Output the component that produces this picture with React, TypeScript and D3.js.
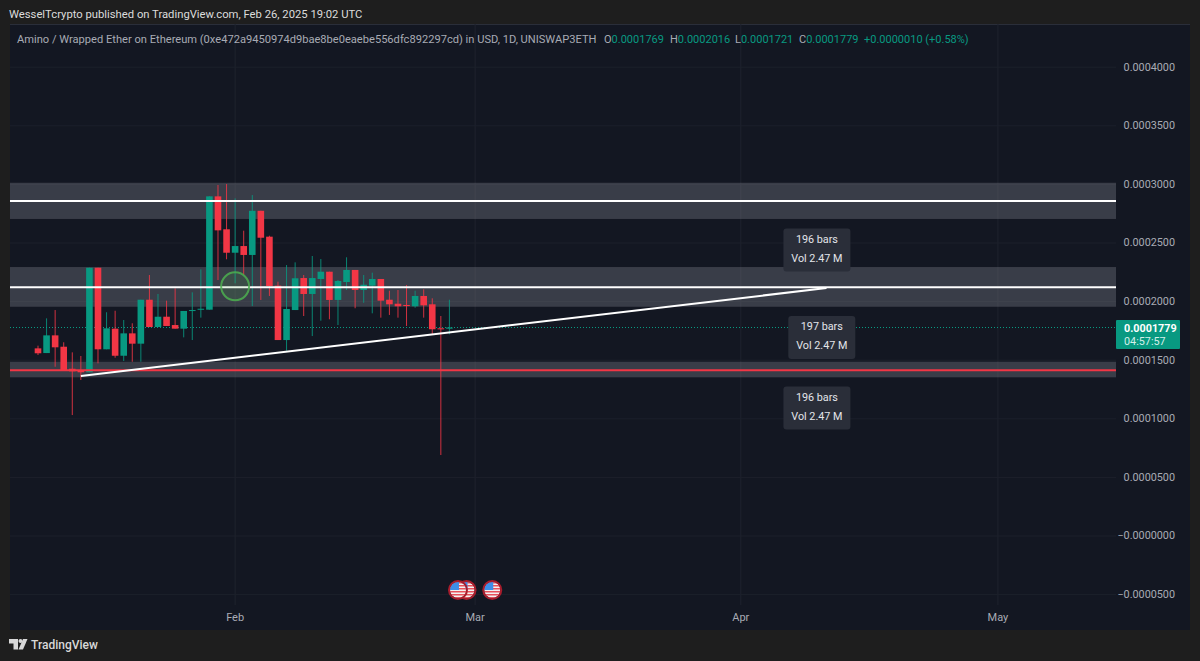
import React from "react";
import * as d3 from "d3";

const U = 1e-7;
const firstDay = Date.UTC(2025, 0, 9);
const DAY = 86400000;
const opens = [1601,1561,1712,1615,1427,1416,1397,2289,1593,1769,1538,1729,1641,2016,1783,1871,1800,1769,1920,1931,1931,2898,2617,2417,2474,2398,2775,2554,2136,1672,1928,2201,2065,2193,2255,2014,2167,2270,2099,2136,2193,2016,1982,1971,1960,2048,1977,1772,1769];
const highs = [1624,1857,1928,1653,1567,1536,2289,2289,1909,1922,1843,1815,2016,2227,2065,2008,2113,1920,2079,2275,2898,2995,3003,2881,2605,2909,2775,2562,2170,2312,2335,2227,2389,2363,2255,2184,2378,2270,2227,2247,2193,2093,2099,2142,2093,2105,2028,1877,2016];
const lows = [1544,1561,1444,1416,1032,1331,1397,1473,1593,1521,1493,1487,1487,1783,1783,1792,1769,1695,1672,1863,1931,2184,2361,2156,2227,1962,2014,2048,1672,1581,1928,1877,1706,1837,1849,1800,2099,1943,1990,1900,1863,1886,1863,1792,1948,1863,1723,691,1721];
const closes = [1559,1712,1610,1416,1405,1397,2289,1593,1772,1538,1729,1641,2016,1783,1871,1792,1769,1920,1928,1939,2898,2608,2417,2474,2398,2775,2545,2133,1672,1937,2199,2065,2201,2255,2014,2176,2270,2099,2144,2193,2008,1977,1960,1962,2048,1968,1764,1769,1779];

const priceTicks = [0.0004, 0.00035, 0.0003, 0.00025, 0.0002, 0.00015, 0.0001, 0.00005, 0, -0.00005];
const priceLabels = ["0.0004000", "0.0003500", "0.0003000", "0.0002500", "0.0002000", "0.0001500", "0.0001000", "0.0000500", "\u22120.0000000", "\u22120.0000500"];
const monthTicks = [
  { label: "Feb", date: Date.UTC(2025, 1, 1) },
  { label: "Mar", date: Date.UTC(2025, 2, 1) },
  { label: "Apr", date: Date.UTC(2025, 3, 1) },
  { label: "May", date: Date.UTC(2025, 4, 1) },
];
const zones = [
  { top: 0.0003014, bottom: 0.0002705, level: 0.0002858, color: "#ffffff" },
  { top: 0.0002295, bottom: 0.0001956, level: 0.0002122, color: "#ffffff" },
  { top: 0.0001487, bottom: 0.0001354, level: 0.0001414, color: "#f23645" },
];
const trend = [
  { date: Date.UTC(2025, 0, 14), price: 0.0001365 },
  { date: Date.UTC(2025, 3, 11), price: 0.0002116 },
];
const callouts = [
  { date: Date.UTC(2025, 3, 10) - DAY * 0.12, price: 0.000244, bars: "196 bars", vol: "Vol 2.47 M" },
  { date: Date.UTC(2025, 3, 10) + DAY * 0.45, price: 0.0001694, bars: "197 bars", vol: "Vol 2.47 M" },
  { date: Date.UTC(2025, 3, 10) - DAY * 0.12, price: 0.0001092, bars: "196 bars", vol: "Vol 2.47 M" },
];
const flagDates = [Date.UTC(2025, 1, 28), Date.UTC(2025, 1, 27), Date.UTC(2025, 2, 3)];
const lastPrice = 0.0001779;
const ohlc = [
  { key: "O", value: "0.0001769", at: 604 },
  { key: "H", value: "0.0002016", at: 670 },
  { key: "L", value: "0.0001721", at: 735 },
  { key: "C", value: "0.0001779", at: 799 },
];

const GREEN = "#089981";
const RED = "#f23645";
const FONT = "Roboto, 'Noto Sans', sans-serif";

const x = d3.scaleLinear().domain([firstDay, firstDay + 48 * DAY]).range([38, 449.4]);
const y = d3.scaleLinear().domain([-0.00005, 0.0004]).range([594.6, 67.2]);

function Flag({ cx, cy, id }: { cx: number; cy: number; id: string }) {
  const r = 8;
  const rows = d3.range(0, 6);
  return (
    <g>
      <clipPath id={id}><circle cx={cx} cy={cy} r={r} /></clipPath>
      <circle cx={cx} cy={cy} r={r} fill="#f4f0f0" />
      <g clipPath={`url(#${id})`}>
        {rows.map((k) => (
          <rect key={k} x={cx - r} y={cy - r + k * 3} width={2 * r} height={1.5} fill="#e8505b" />
        ))}
        <rect x={cx - r} y={cy - r} width={r + 1} height={r} fill="#3d8ee8" />
      </g>
      <circle cx={cx} cy={cy} r={r + 1} fill="none" stroke="#a81c2c" strokeWidth={2} />
    </g>
  );
}

export default function App() {
  const bodyW = 6.6;
  return (
    <svg width={1200} height={661} viewBox="0 0 1200 661" style={{ position: "absolute", left: 0, top: 0, display: "block" }} fontFamily={FONT}>
      <rect width={1200} height={661} fill="#1e1e1e" />
      <rect x={10} y={24} width={1180} height={606} fill="#131722" />
      <rect x={10} y={24} width={1180} height={1} fill="#2a2e39" />

      {monthTicks.map((t) => (
        <line key={t.label} x1={x(t.date)} x2={x(t.date)} y1={24} y2={605} stroke="#1f232e" />
      ))}
      {priceTicks.map((p) => (
        <line key={p} x1={10} x2={1116} y1={y(p)} y2={y(p)} stroke="#1c202b" />
      ))}

      {zones.map((z) => (
        <rect key={z.level} x={10} width={1106} y={y(z.top)} height={y(z.bottom) - y(z.top)} fill="#787b86" fillOpacity={0.38} />
      ))}

      <line x1={10} x2={1116} y1={y(lastPrice)} y2={y(lastPrice)} stroke={GREEN} strokeWidth={1} strokeDasharray="1 2" />

      {opens.map((o, i) => {
        const c = closes[i];
        const up = c >= o;
        const col = up ? GREEN : RED;
        const cx = x(firstDay + i * DAY);
        const top = y(Math.max(o, c) * U);
        const bot = y(Math.min(o, c) * U);
        return (
          <g key={i}>
            <line x1={cx} x2={cx} y1={y(highs[i] * U)} y2={y(lows[i] * U)} stroke={col} strokeOpacity={0.85} strokeWidth={1} />
            <rect x={cx - bodyW / 2} width={bodyW} y={top} height={Math.max(bot - top, 1)} fill={col} />
          </g>
        );
      })}

      {zones.map((z) => (
        <line key={z.level} x1={10} x2={1116} y1={y(z.level)} y2={y(z.level)} stroke={z.color} strokeWidth={2} />
      ))}

      <line x1={x(trend[0].date)} y1={y(trend[0].price)} x2={x(trend[1].date)} y2={y(trend[1].price)} stroke="#ffffff" strokeWidth={2} />

      <circle cx={x(firstDay + 23 * DAY)} cy={y(0.000213)} r={14} fill="#4caf50" fillOpacity={0.14} stroke="#4caf50" strokeOpacity={0.85} strokeWidth={2} />

      {callouts.map((c, i) => {
        const cx = x(c.date);
        const cy = y(c.price);
        return (
          <g key={i}>
            <rect x={cx - 33.5} y={cy - 21.5} width={67} height={43} rx={3} fill="#2a2e39" />
            <text x={cx} y={cy - 7} textAnchor="middle" fontSize={10.8} fill="#e3e5ea">{c.bars}</text>
            <text x={cx} y={cy + 12} textAnchor="middle" fontSize={10.8} fill="#e3e5ea">{c.vol}</text>
          </g>
        );
      })}

      {flagDates.map((d, i) => (
        <Flag key={i} cx={x(d)} cy={590} id={`flag${i}`} />
      ))}

      {priceTicks.map((p, i) => (
        <text key={p} x={1175} y={y(p) + 3.3} textAnchor="end" fontSize={10.8} fill="#a8abb4">{priceLabels[i]}</text>
      ))}

      <rect x={1116} y={320} width={64} height={29} rx={1} fill={GREEN} />
      <text x={1124} y={332} fontSize={10.8} fontWeight={700} fill="#ffffff">{lastPrice.toFixed(7)}</text>
      <text x={1124} y={345} fontSize={10.8} fill="#d4efe9">04:57:57</text>

      {monthTicks.map((t) => (
        <text key={t.label} x={x(t.date)} y={621} textAnchor="middle" fontSize={11} fill="#a8abb4">{t.label}</text>
      ))}

      <text x={9} y={18} fontSize={11.25} fill="#dcdcdc">WesselTcrypto published on TradingView.com, Feb 26, 2025 19:02 UTC</text>
      <text x={17} y={43} fontSize={11.12} fill="#a8abb4">Amino / Wrapped Ether on Ethereum (0xe472a9450974d9bae8be0eaebe556dfc892297cd) in USD, 1D, UNISWAP3ETH</text>
      {ohlc.map((d) => (
        <text key={d.key} x={d.at} y={43} fontSize={11} fill={GREEN}>
          <tspan fill="#a8abb4">{d.key}</tspan>{d.value}
        </text>
      ))}
      <text x={864} y={43} fontSize={11} fill={GREEN}>+0.0000010 (+0.58%)</text>

      <g fill="#d8d8d8">
        <path d="M9 639 h9 v10.5 h-4.5 v-6 H9 z" />
        <circle cx={20.5} cy={641} r={2} />
        <path d="M23 639 h4.5 l-4.5 10.5 h-4.5 z" />
      </g>
      <text x={31} y={649} fontSize={12} fontWeight={500} fill="#d8d8d8">TradingView</text>
    </svg>
  );
}
